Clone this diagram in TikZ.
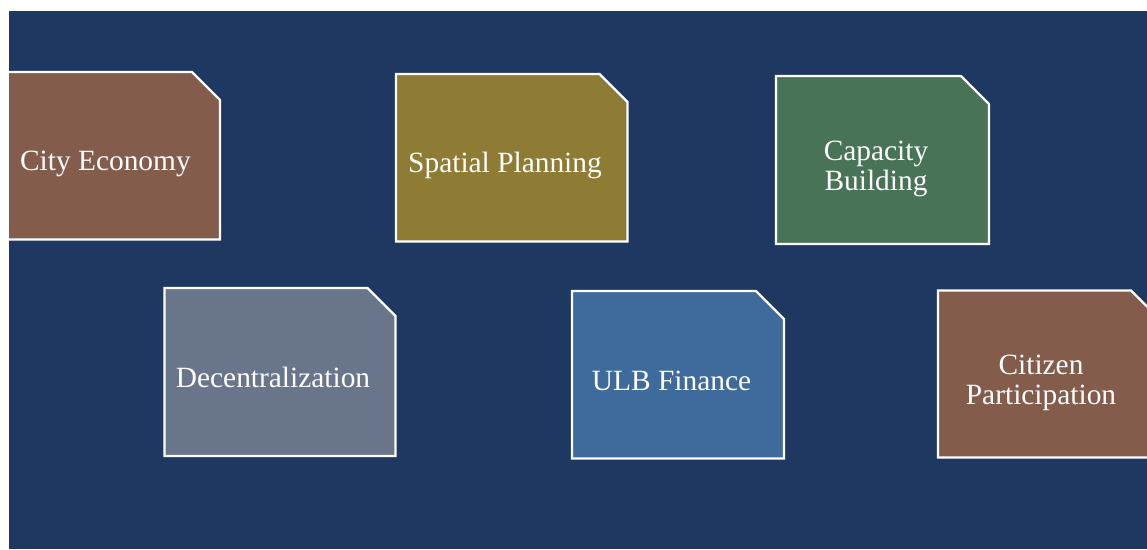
\documentclass[tikz,border=0pt]{standalone}
\usepackage{fontspec}
\setmainfont{Liberation Serif}
\definecolor{bgblue}{RGB}{31,56,98}
\definecolor{boxbrown}{RGB}{132,92,76}
\definecolor{boxolive}{RGB}{142,123,52}
\definecolor{boxgreen}{RGB}{73,115,86}
\definecolor{boxslate}{RGB}{104,117,139}
\definecolor{boxblue}{RGB}{62,106,156}
\newcommand{\cutbox}[5]{%
  \path[boxshape, fill=#5] (#1,#2) -- ({#3-28},#2) -- (#3,{#2+28}) -- (#3,#4) -- (#1,#4) -- cycle;}
\tikzset{
  boxshape/.style={draw=white, line width=2.2pt, line join=miter},
  label/.style={text=white, font=\fontsize{29.4}{29.8}\selectfont, align=center, anchor=base, inner sep=0pt}
}
\begin{document}
\begin{tikzpicture}[x=1pt,y=-1pt]
\useasboundingbox (0,0) rectangle (1147,549);
\fill[bgblue] (9,11) rectangle (1147,549);
\begin{scope}
\clip (9,11) rectangle (1147,549);
\cutbox{-12}{72}{220}{239.5}{boxbrown}
\cutbox{396}{74}{627.5}{241.5}{boxolive}
\cutbox{776}{76}{989}{244}{boxgreen}
\cutbox{164.5}{288}{395.5}{456}{boxslate}
\cutbox{572}{291}{784}{458.5}{boxblue}
\cutbox{938}{290.5}{1159}{457.5}{boxbrown}
\end{scope}
\node[label] (ce) at (105.4,170.5) {City Economy};
\node[label] (sp) at (505,172.2) {Spatial Planning};
\node[label] (cb) at (876,190.3) {Capacity\\Building};
\node[label] (de) at (273,387.2) {Decentralization};
\node[label] (uf) at (671.5,390.5) {ULB Finance};
\node[label] (cp) at (1041,404.3) {Citizen\\Participation};
\end{tikzpicture}
\end{document}
